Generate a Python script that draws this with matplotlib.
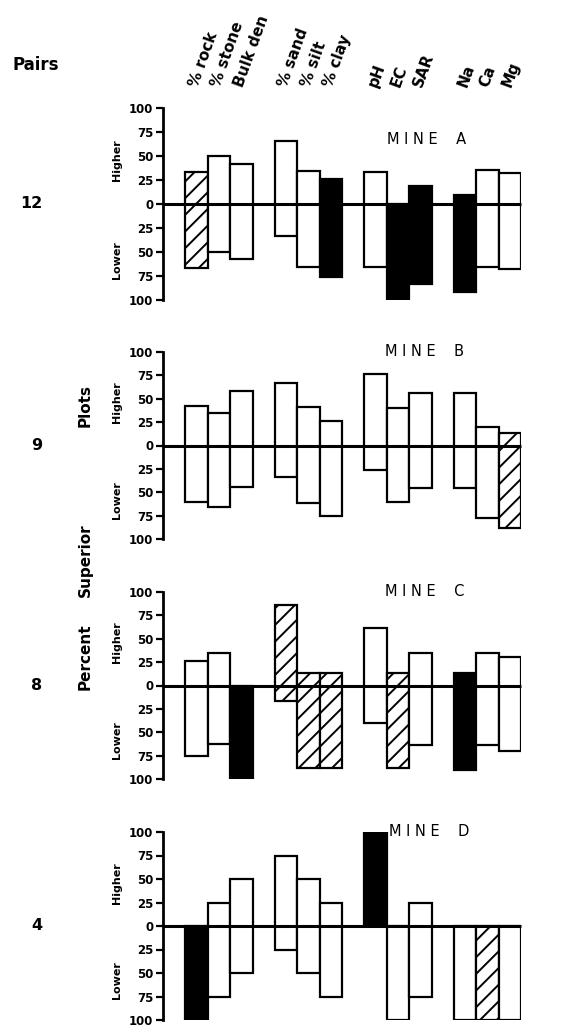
"""
Percent of paired plots where the reclaimed soil property was higher / lower,
four mines (A-D), 12 soil properties in 4 groups.
"""
import numpy as np
import matplotlib
matplotlib.use('Agg')
import matplotlib.pyplot as plt

plt.rcParams['font.family'] = ['DejaVu Sans']
plt.rcParams['hatch.linewidth'] = 1.4

# ── data ───────────────────────────────────────────────────────────────────
params = ['% rock', '% stone', 'Bulk den', '% sand', '% silt', '% clay',
          'pH', 'EC', 'SAR', 'Na', 'Ca', 'Mg']
mines = ['A', 'B', 'C', 'D']
pairs = [12, 9, 8, 4]

higher_A = [33, 50, 42, 66, 34, 26, 33, 0, 19, 9, 35, 32]
lower_A = [67, 50, 57, 33, 66, 76, 66, 100, 83, 92, 66, 68]
fill_A = ['h', 'w', 'w', 'w', 'w', 'k', 'w', 'k', 'k', 'k', 'w', 'w']

higher_B = [42, 35, 58, 67, 41, 26, 76, 40, 56, 56, 20, 13]
lower_B = [60, 66, 44, 34, 61, 75, 26, 60, 45, 45, 78, 88]
fill_B = ['w', 'w', 'w', 'w', 'w', 'w', 'w', 'w', 'w', 'w', 'w', 'h']

higher_C = [26, 35, 0, 86, 13, 13, 61, 13, 35, 13, 35, 30]
lower_C = [75, 63, 100, 17, 88, 88, 40, 88, 64, 90, 64, 70]
fill_C = ['w', 'w', 'k', 'h', 'h', 'h', 'w', 'h', 'w', 'k', 'w', 'w']

higher_D = [0, 25, 50, 75, 50, 25, 100, 0, 25, 0, 0, 0]
lower_D = [100, 75, 50, 25, 50, 75, 0, 100, 75, 100, 100, 100]
fill_D = ['k', 'w', 'w', 'w', 'w', 'w', 'k', 'w', 'w', 'w', 'h', 'w']

HIGHER = [higher_A, higher_B, higher_C, higher_D]
LOWER = [lower_A, lower_B, lower_C, lower_D]
FILLS = [fill_A, fill_B, fill_C, fill_D]

# ── layout (pixel coords of the 565x1027 figure) ───────────────────────────
W, H = 565, 1027
AX_L, AX_R = 163, 521
PANELS = [(108, 300), (352, 539), (592, 779), (832, 1020)]   # top, bottom
MINE_POS = [(10.0, 67), (9.9, 100), (9.9, 100), (10.1, 100)]

# bar slots: groups of 3, one empty slot between groups
xpos = np.array([g * 4 + i + 1.5 for g in range(4) for i in range(3)])

fig = plt.figure(figsize=(W / 100, H / 100), dpi=100)


def fx(px):
    return px / W


def fy(py):
    return 1 - py / H


for k, (top, bot) in enumerate(PANELS):
    ax = fig.add_axes([fx(AX_L), fy(bot), fx(AX_R - AX_L), (bot - top) / H])
    hi = np.array(HIGHER[k], float)
    lo = np.array(LOWER[k], float)
    for x, h, l, f in zip(xpos, hi, lo, FILLS[k]):
        face = 'black' if f == 'k' else 'white'
        ax.bar(x, h + l, bottom=-l, width=1.0, facecolor=face,
               edgecolor='black', linewidth=1.6,
               hatch='//' if f == 'h' else None, zorder=2)
    ax.plot([0, 16], [0, 0], color='black', lw=2.2, zorder=3,
            solid_capstyle='butt', clip_on=False)
    ax.set_xlim(0, 16)
    ax.set_ylim(-100, 100)
    ax.set_yticks([100, 75, 50, 25, 0, -25, -50, -75, -100])
    ax.set_yticklabels(['100', '75', '50', '25', '0', '25', '50', '75', '100'],
                       fontsize=8.5, fontweight='bold')
    ax.tick_params(axis='y', direction='out', length=5, width=1.6, pad=2)
    ax.set_xticks([])
    for s in ['top', 'right', 'bottom']:
        ax.spines[s].set_visible(False)
    ax.spines['left'].set_linewidth(2.0)
    ax.patch.set_alpha(0)

    mx, my = MINE_POS[k]
    ax.text(mx, my, f'M I N E    {mines[k]}', fontsize=10.5, ha='left',
            va='center', clip_on=False)

    ymid = (top + bot) / 2
    fig.text(fx(117), fy(top + 0.27 * (bot - top)), 'Higher', rotation=90,
             fontsize=8, fontweight='bold', ha='center', va='center')
    fig.text(fx(117), fy(top + 0.79 * (bot - top)), 'Lower', rotation=90,
             fontsize=8, fontweight='bold', ha='center', va='center')
    fig.text(fx(42), fy(ymid), str(pairs[k]), fontsize=11.5, ha='right',
             va='center', fontweight='bold')

# ── column headers ─────────────────────────────────────────────────────────
for x, p in zip(xpos, params):
    px = AX_L + x * (AX_R - AX_L) / 16
    fig.text(fx(px - 3), fy(86), p, rotation=70, rotation_mode='anchor',
             ha='left', va='center', fontsize=11, fontweight='bold')

fig.text(fx(13), fy(65), 'Pairs', fontsize=12, ha='left', va='center',
         fontweight='bold')
fig.text(fx(85), fy(405), 'Plots', rotation=90, fontsize=11,
         ha='center', va='center', fontweight='bold')
fig.text(fx(85), fy(560), 'Superior', rotation=90, fontsize=11,
         ha='center', va='center', fontweight='bold')
fig.text(fx(85), fy(657), 'Percent', rotation=90, fontsize=11,
         ha='center', va='center', fontweight='bold')

fig.savefig('out.png', dpi=100)
plt.close(fig)
